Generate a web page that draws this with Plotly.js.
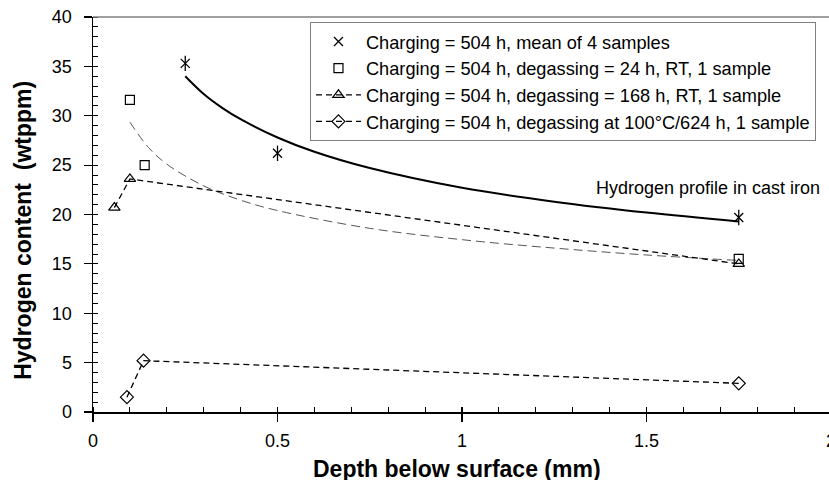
<!DOCTYPE html>
<html>
<head>
<meta charset="utf-8">
<script src="https://cdn.plot.ly/plotly-3.0.1.min.js"></script>
<style>
html,body{margin:0;padding:0;width:829px;height:480px;overflow:hidden;background:#fff;}
#chart{width:840px;height:480px;}
</style>
</head>
<body>
<div id="chart"></div>
<script>
// Measured data
const starX = [0.25, 0.5, 1.75];
const starY = [35.3, 26.2, 19.7];
const sqX = [0.1, 0.14, 1.75];
const sqY = [31.6, 25.0, 15.5];
const triX = [0.058, 0.1, 1.75];
const triY = [20.7, 23.6, 15.0];
const diaX = [0.092, 0.137, 1.75];
const diaY = [1.5, 5.2, 2.9];
// Trend curves
const starTrendX = [0.25, 0.3, 0.35, 0.4, 0.5, 0.6, 0.75, 1.0, 1.25, 1.5, 1.75];
const starTrendY = [34.0, 32.2, 30.8, 29.65, 27.8, 26.35, 24.7, 22.7, 21.3, 20.2, 19.3];
const sqTrendX = [0.1, 0.15, 0.2, 0.3, 0.4, 0.5, 0.75, 1.0, 1.25, 1.5, 1.75];
const sqTrendY = [29.35, 26.8, 25.1, 22.9, 21.45, 20.4, 18.6, 17.45, 16.6, 15.9, 15.35];

const names = [
  'Charging = 504 h, mean of 4 samples',
  'Charging = 504 h, degassing = 24 h, RT, 1 sample',
  'Charging = 504 h, degassing = 168 h, RT, 1 sample',
  'Charging = 504 h, degassing at 100°C/624 h, 1 sample'
];
const xTitle = 'Depth below surface (mm)';
const yTitle = 'Hydrogen content  (wtppm)';
const note = 'Hydrogen profile in cast iron';

const traces = [
  {x: starTrendX, y: starTrendY, mode: 'lines', line: {color: '#000', width: 2, shape: 'spline'}, showlegend: false, hoverinfo: 'skip'},
  {x: sqTrendX, y: sqTrendY, mode: 'lines', line: {color: '#555', width: 1, dash: '9px,5px', shape: 'spline'}, showlegend: false, hoverinfo: 'skip'},
  {x: starX, y: starY, mode: 'markers', name: names[0], legendgroup: 'a',
   marker: {symbol: 'x-thin-open', size: 9, color: '#000', line: {width: 1.3, color: '#000'}}},
  {x: starX, y: starY, mode: 'markers', showlegend: false, legendgroup: 'a',
   marker: {symbol: 'line-ns-open', size: 11, color: '#000', line: {width: 1.3, color: '#000'}}},
  {x: sqX, y: sqY, mode: 'markers', name: names[1], legendgroup: 'b',
   marker: {symbol: 'square-open', size: 9, color: '#000', line: {width: 1.2, color: '#000'}}},
  {x: triX, y: triY, mode: 'lines+markers', name: names[2], legendgroup: 'c',
   line: {color: '#000', width: 1.3, dash: '6px,4px'},
   marker: {symbol: 'triangle-up-open', size: 10, color: '#000', line: {width: 1.2, color: '#000'}}},
  {x: diaX, y: diaY, mode: 'lines+markers', name: names[3], legendgroup: 'd',
   line: {color: '#000', width: 1.3, dash: '6px,4px'},
   marker: {symbol: 'diamond-open', size: 10, color: '#000', line: {width: 1.2, color: '#000'}}},
  // overlay axis for inward part of major ticks
  {x: [0], y: [0], xaxis: 'x2', yaxis: 'y2', mode: 'markers', marker: {opacity: 0}, showlegend: false, hoverinfo: 'skip'}
];

const fam = 'Arial, Liberation Sans, sans-serif';
const font = {family: fam, size: 18, color: '#000'};
const titleFont = {family: fam, size: 23, color: '#000'};

const layout = {
  width: 840, height: 480,
  margin: {l: 93, r: 9, t: 17, b: 68},
  paper_bgcolor: '#fff', plot_bgcolor: '#fff',
  font: font,
  showlegend: true,
  legend: {x: 0.294, xanchor: 'left', y: 0.987, yanchor: 'top',
           bordercolor: '#808080', borderwidth: 1, bgcolor: '#fff',
           font: {family: fam, size: 18.2, color: '#000'},
           traceorder: 'grouped', tracegroupgap: 0, itemwidth: 45},
  xaxis: {range: [0, 2], dtick: 0.5, tick0: 0, showgrid: false, zeroline: false,
          showline: true, linecolor: '#000', linewidth: 1.5, mirror: false,
          ticks: 'outside', ticklen: 8, tickwidth: 1.2, tickcolor: '#000',
          minor: {dtick: 0.1, ticks: 'inside', ticklen: 5, tickwidth: 1, tickcolor: '#000'},
          tickfont: font, ticklabelstandoff: 4},
  yaxis: {range: [0, 40], dtick: 5, showgrid: false, zeroline: false,
          showline: true, linecolor: '#000', linewidth: 1.5,
          ticks: 'outside', ticklen: 8, tickwidth: 1.2, tickcolor: '#000',
          minor: {dtick: 1, ticks: 'inside', ticklen: 5, tickwidth: 1, tickcolor: '#000'},
          tickfont: font, ticklabelstandoff: 8},
  xaxis2: {overlaying: 'x', range: [0, 2], dtick: 0.5, tick0: 0, showgrid: false, zeroline: false,
           showline: false, ticks: 'inside', ticklen: 5, tickwidth: 1.2, tickcolor: '#000',
           showticklabels: false, anchor: 'y'},
  yaxis2: {overlaying: 'y', range: [0, 40], dtick: 5, showgrid: false, zeroline: false,
           showline: false, ticks: 'inside', ticklen: 5, tickwidth: 1.2, tickcolor: '#000',
           showticklabels: false, anchor: 'x'},
  shapes: [
    {type: 'line', xref: 'paper', yref: 'paper', x0: 0, x1: 1, y0: 1, y1: 1, line: {color: '#808080', width: 1.5}}
  ],
  annotations: [
    {text: note, xref: 'paper', yref: 'paper', x: 0.988, y: 0.567,
     xanchor: 'right', yanchor: 'middle', showarrow: false,
     font: {family: fam, size: 18, color: '#000'}},
    {text: '<b>' + xTitle + '</b>', xref: 'paper', yref: 'paper', x: 0.493, y: -0.145,
     xanchor: 'center', yanchor: 'middle', showarrow: false, font: titleFont},
    {text: '<b>' + yTitle + '</b>', xref: 'paper', yref: 'paper', x: -0.095, y: 0.461,
     xanchor: 'center', yanchor: 'middle', showarrow: false, textangle: -90, font: titleFont}
  ]
};

Plotly.newPlot('chart', traces, layout, {displayModeBar: false, staticPlot: true});
</script>
</body>
</html>
